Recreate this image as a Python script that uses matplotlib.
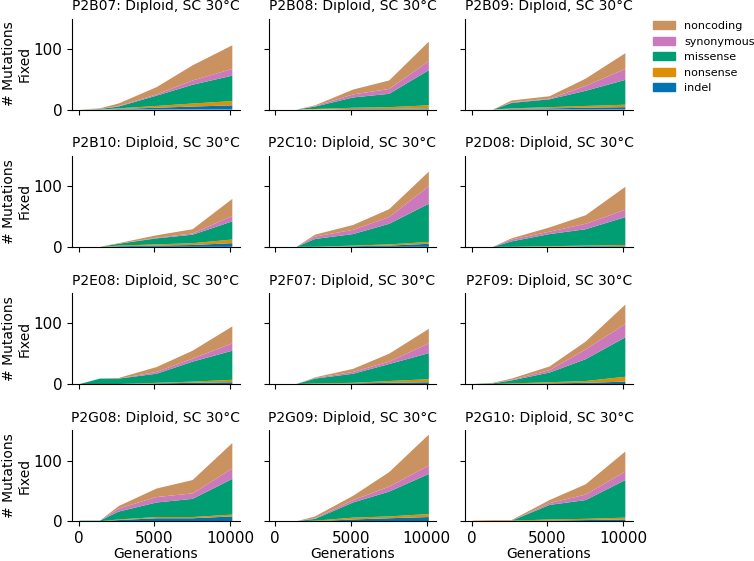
import matplotlib
matplotlib.use("Agg")
import matplotlib.pyplot as plt
from matplotlib.patches import Patch

generations = [70, 1410, 2640, 5150, 7530, 10150]
populations = ["P2B07", "P2B08", "P2B09", "P2B10", "P2C10", "P2D08",
               "P2E08", "P2F07", "P2F09", "P2G08", "P2G09", "P2G10"]
categories = ["indel", "nonsense", "missense", "synonymous", "noncoding"]
colors = ["#0173B2", "#DE8F05", "#029E73", "#CC78BC", "#CA9161"]

indel = [
    [0, 0, 1, 3, 5, 7],
    [0, 0, 0, 1, 1, 2],
    [0, 0, 1, 2, 3, 4],
    [0, 0, 1, 2, 3, 6],
    [0, 0, 0, 1, 2, 5],
    [0, 0, 0, 0, 1, 1],
    [0, 0, 0, 1, 2, 3],
    [0, 0, 0, 1, 2, 3],
    [0, 0, 0, 1, 2, 4],
    [0, 0, 2, 5, 5, 8],
    [0, 0, 0, 3, 5, 7],
    [0, 0, 0, 1, 2, 3],
]
nonsense = [
    [0, 0, 1, 3, 5, 7],
    [0, 0, 1, 2, 3, 5],
    [0, 0, 1, 2, 3, 4],
    [0, 0, 1, 2, 3, 6],
    [0, 0, 0, 1, 2, 3],
    [0, 0, 0, 1, 1, 2],
    [0, 0, 0, 1, 2, 4],
    [0, 0, 1, 1, 3, 5],
    [0, 0, 1, 2, 3, 8],
    [0, 0, 1, 2, 2, 3],
    [0, 0, 1, 3, 3, 5],
    [1, 1, 1, 2, 2, 3],
]
missense = [
    [0, 1, 3, 17, 31, 42],
    [0, 0, 4, 17, 22, 58],
    [0, 0, 9, 13, 25, 41],
    [0, 0, 3, 10, 14, 30],
    [0, 0, 13, 19, 34, 63],
    [0, 0, 9, 20, 27, 46],
    [0, 9, 9, 15, 33, 48],
    [0, 0, 8, 15, 28, 43],
    [0, 1, 5, 16, 36, 65],
    [1, 1, 13, 24, 30, 59],
    [0, 0, 3, 25, 41, 66],
    [0, 0, 0, 24, 31, 62],
]
synonymous = [
    [0, 0, 1, 2, 7, 11],
    [0, 0, 1, 5, 8, 15],
    [0, 0, 1, 1, 8, 18],
    [0, 0, 0, 1, 2, 9],
    [0, 0, 4, 7, 11, 29],
    [0, 0, 3, 4, 9, 12],
    [0, 0, 0, 3, 5, 12],
    [0, 0, 1, 3, 4, 16],
    [0, 0, 1, 4, 16, 22],
    [0, 0, 5, 9, 9, 17],
    [0, 0, 1, 4, 8, 14],
    [0, 0, 0, 3, 9, 14],
]
noncoding = [
    [0, 1, 4, 12, 25, 39],
    [0, 0, 1, 8, 14, 32],
    [0, 0, 3, 4, 12, 26],
    [0, 0, 1, 4, 7, 28],
    [0, 0, 3, 8, 13, 24],
    [0, 0, 2, 7, 14, 38],
    [0, 0, 1, 8, 13, 28],
    [0, 0, 1, 5, 13, 24],
    [0, 1, 2, 6, 13, 32],
    [0, 0, 4, 14, 22, 42],
    [0, 0, 3, 7, 24, 51],
    [0, 1, 1, 5, 17, 33],
]

fig, axes = plt.subplots(4, 3, figsize=(7.54, 5.61), dpi=100, sharex=True, sharey=True)
fig.subplots_adjust(left=0.0955, right=0.8395, top=0.967, bottom=0.0708,
                    wspace=0.17, hspace=0.507)

for i, ax in enumerate(axes.flat):
    ax.stackplot(generations, indel[i], nonsense[i], missense[i], synonymous[i],
                 noncoding[i], colors=colors, labels=categories)
    ax.set_title(f"{populations[i]}: Diploid, SC 30°C", fontsize=10)
    ax.spines["top"].set_visible(False)
    ax.spines["right"].set_visible(False)
    ax.tick_params(axis="both", labelsize=11)
    if i % 3 == 0:
        ax.set_ylabel("# Mutations\nFixed", fontsize=10, labelpad=1)
    if i >= 9:
        ax.set_xlabel("Generations", fontsize=10, labelpad=1)

handles = [Patch(color=c, label=l) for c, l in zip(colors, categories)][::-1]
fig.legend(handles=handles, loc="upper left", bbox_to_anchor=(643 / 754, 1 - 11 / 561),
           frameon=False, fontsize=8)

fig.savefig("out.png", dpi=100)
